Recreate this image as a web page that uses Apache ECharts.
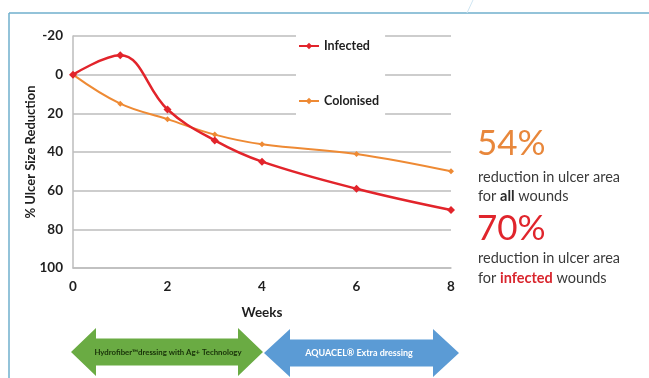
<!DOCTYPE html>
<html>
<head>
<meta charset="utf-8">
<script src="https://cdn.jsdelivr.net/npm/echarts@6/dist/echarts.min.js"></script>
<style>
  html, body { margin: 0; padding: 0; background: #fff; }
  #chart { width: 649px; height: 378px; }
</style>
</head>
<body>
<div id="chart"></div>
<script>
// Weeks of treatment and % ulcer size reduction for each wound group
const weeks = [0, 1, 2, 3, 4, 6, 8];
const infected = [0, -10, 18, 34, 45, 59, 70];
const colonised = [0, 15, 23, 31, 36, 41, 50];
const seriesNames = ['Infected', 'Colonised'];
const yTicks = { min: -20, max: 100, step: 20 };
const xTicks = { min: 0, max: 8, step: 2 };

const RED = '#e2242b';
const ORANGE = '#ee8a34';
const FONT = 'Lato, "Open Sans", "DejaVu Sans", sans-serif';

const chart = echarts.init(document.getElementById('chart'));

const pairs = (xs, ys) => xs.map((x, i) => [x, ys[i]]);

// Double-headed block arrow polygon
function blockArrow(x0, x1, cy, head, headH, shaftH) {
  return [
    [x0, cy],
    [x0 + head, cy - headH / 2],
    [x0 + head, cy - shaftH / 2],
    [x1 - head, cy - shaftH / 2],
    [x1 - head, cy - headH / 2],
    [x1, cy],
    [x1 - head, cy + headH / 2],
    [x1 - head, cy + shaftH / 2],
    [x0 + head, cy + shaftH / 2],
    [x0 + head, cy + headH / 2]
  ];
}

const bodyText = { fontFamily: FONT, fontSize: 14.5, fill: '#3a3a3a' };

chart.setOption({
  backgroundColor: '#fff',
  animation: false,
  textStyle: { fontFamily: FONT },
  grid: { left: 73, top: 36, right: 198, bottom: 110, containLabel: false },
  legend: {
    orient: 'vertical',
    left: 296,
    top: 31,
    padding: [8, 6, 9, 2],
    itemGap: 41,
    itemWidth: 20,
    itemHeight: 8,
    backgroundColor: '#fff',
    data: seriesNames,
    textStyle: { fontFamily: FONT, fontWeight: 'bold', fontSize: 12.5, color: '#1e1e1e', lineHeight: 14 }
  },
  xAxis: {
    type: 'value',
    min: xTicks.min,
    max: xTicks.max,
    interval: xTicks.step,
    name: 'Weeks',
    nameLocation: 'middle',
    nameGap: 38,
    nameTextStyle: { fontFamily: FONT, fontWeight: 'bold', fontSize: 13.5, color: '#1e1e1e' },
    axisLine: { onZero: false, lineStyle: { color: '#bdbdbd', width: 1.5 } },
    axisTick: { show: false },
    splitLine: { show: false },
    axisLabel: { fontFamily: FONT, fontWeight: 'bold', fontSize: 13.5, color: '#1e1e1e', margin: 12 }
  },
  yAxis: {
    type: 'value',
    inverse: true,
    min: yTicks.min,
    max: yTicks.max,
    interval: yTicks.step,
    name: '% Ulcer Size Reduction',
    nameLocation: 'middle',
    nameGap: 36,
    nameMoveOverlap: false,
    nameTextStyle: { fontFamily: FONT, fontWeight: 'bold', fontSize: 13, color: '#1e1e1e' },
    axisLine: { show: true, onZero: false, lineStyle: { color: '#bdbdbd', width: 1.5 } },
    axisTick: { show: false },
    splitLine: { lineStyle: { color: '#bdbdbd', width: 1.5 } },
    axisLabel: { fontFamily: FONT, fontWeight: 'bold', fontSize: 13.5, color: '#1e1e1e', margin: 10 }
  },
  series: [
    {
      name: seriesNames[0],
      type: 'line',
      smooth: 0.4,
      data: pairs(weeks, infected),
      symbol: 'diamond',
      symbolSize: 8,
      z: 3,
      lineStyle: { color: RED, width: 2.5 },
      itemStyle: { color: RED }
    },
    {
      name: seriesNames[1],
      type: 'line',
      smooth: 0.4,
      data: pairs(weeks, colonised),
      symbol: 'diamond',
      symbolSize: 6,
      z: 2,
      lineStyle: { color: ORANGE, width: 2 },
      itemStyle: { color: ORANGE }
    }
  ],
  graphic: [
    // frame
    { type: 'line', silent: true, shape: { x1: 9, y1: 13, x2: 649, y2: 13 }, style: { stroke: '#6fafcc', lineWidth: 1.5 } },
    { type: 'line', silent: true, shape: { x1: 9, y1: 13, x2: 9, y2: 378 }, style: { stroke: '#6fafcc', lineWidth: 1.5 } },
    { type: 'line', silent: true, shape: { x1: 467, y1: 13, x2: 473, y2: 0 }, style: { stroke: '#cfe6f2', lineWidth: 1 } },
    // treatment phase arrows
    {
      type: 'polygon', silent: true,
      shape: { points: blockArrow(71, 263, 352, 25, 48, 27) },
      style: { fill: '#6aab43' }
    },
    {
      type: 'text', silent: true, x: 168, y: 352,
      style: { text: 'Hydrofiber\u2122dressing with Ag+ Technology', fontFamily: FONT, fontWeight: 'bold', fontSize: 7.8, fill: '#173008', align: 'center', verticalAlign: 'middle' }
    },
    {
      type: 'polygon', silent: true,
      shape: { points: blockArrow(264, 459, 353, 26, 48, 27) },
      style: { fill: '#5b9bd5' }
    },
    {
      type: 'text', silent: true, x: 359, y: 353,
      style: { text: 'AQUACEL\u00ae Extra dressing', fontFamily: FONT, fontWeight: 'bold', fontSize: 9, fill: '#ffffff', align: 'center', verticalAlign: 'middle' }
    },
    // summary call-outs
    {
      type: 'text', silent: true, x: 477, y: 144,
      style: { text: '54%', fontFamily: FONT, fontWeight: 'normal', fontSize: 35, fill: '#e8873b', verticalAlign: 'middle' }
    },
    {
      type: 'text', silent: true, x: 478, y: 168,
      style: Object.assign({}, bodyText, {
        text: 'reduction in ulcer area\n{n|for }{b|all}{n| wounds}',
        lineHeight: 19, verticalAlign: 'top',
        rich: {
          n: bodyText,
          b: Object.assign({}, bodyText, { fontWeight: 'bold', fill: '#2a2a2a' })
        }
      })
    },
    {
      type: 'text', silent: true, x: 477, y: 229,
      style: { text: '70%', fontFamily: FONT, fontWeight: 'normal', fontSize: 35, fill: '#e0252c', verticalAlign: 'middle' }
    },
    {
      type: 'text', silent: true, x: 478, y: 248,
      style: Object.assign({}, bodyText, {
        text: 'reduction in ulcer area\n{n|for }{b|infected}{n| wounds}',
        lineHeight: 20, verticalAlign: 'top',
        rich: {
          n: bodyText,
          b: Object.assign({}, bodyText, { fontWeight: 'bold', fill: '#d9262e' })
        }
      })
    }
  ]
});
</script>
</body>
</html>
